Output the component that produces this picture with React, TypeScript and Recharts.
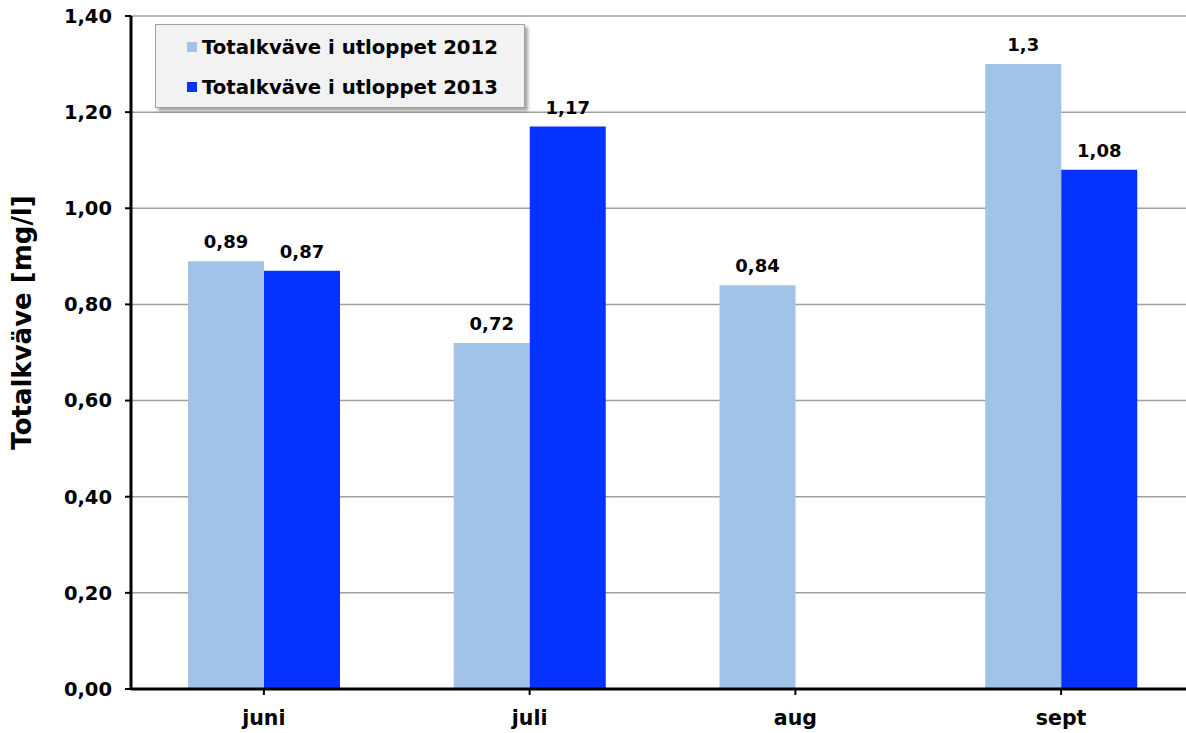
import React from "react";
import { BarChart, Bar, XAxis, YAxis, CartesianGrid, LabelList } from "recharts";

const months = ["juni", "juli", "aug", "sept"];
const values2012 = [0.89, 0.72, 0.84, 1.3];
const values2013: (number | null)[] = [0.87, 1.17, null, 1.08];
const yTicks = [0, 0.2, 0.4, 0.6, 0.8, 1.0, 1.2, 1.4];
const series = [
  { key: "y2012", name: "Totalkväve i utloppet 2012", color: "#A1C3E9" },
  { key: "y2013", name: "Totalkväve i utloppet 2013", color: "#0433FF" },
];
const yTitle = "Totalkväve [mg/l]";

const data = months.map((m, i) => ({ month: m, y2012: values2012[i], y2013: values2013[i] }));

const FONT = "'DejaVu Sans', Verdana, sans-serif";

const fmtLabel = (v: any) => (v === null || v === undefined ? "" : String(v).replace(".", ","));
const fmtTick = (v: number) => v.toFixed(2).replace(".", ",");

const YTitle = (props: any) => {
  const vb = props.viewBox || {};
  const cx = 31;
  const cy = vb.y + vb.height / 2 - 30;
  return (
    <text
      x={cx}
      y={cy}
      transform={`rotate(-90 ${cx} ${cy})`}
      textAnchor="middle"
      fill="#000"
      fontFamily={FONT}
      fontWeight="bold"
      fontSize={26}
    >
      {yTitle}
    </text>
  );
};

const LegendBox = () => (
  <div
    style={{
      position: "absolute",
      left: 155,
      top: 24,
      width: 370,
      height: 84,
      background: "#F2F2F2",
      border: "1px solid #A0A0A0",
      boxShadow: "3px 3px 3px rgba(0,0,0,0.35)",
      boxSizing: "border-box",
      fontFamily: FONT,
      fontWeight: "bold",
      fontSize: 19.7,
      color: "#000",
      paddingTop: 2,
    }}
  >
    {series.map((s) => (
      <div key={s.key} style={{ display: "flex", alignItems: "center", height: 40, paddingLeft: 31, whiteSpace: "nowrap" }}>
        <span style={{ display: "inline-block", width: 10, height: 10, background: s.color, marginRight: 5 }} />
        <span>{s.name}</span>
      </div>
    ))}
  </div>
);

export default function App() {
  return (
    <div style={{ position: "absolute", left: 0, top: 0, width: 1186, height: 733, background: "#fff", overflow: "hidden" }}>
      <BarChart
        width={1194}
        height={733}
        data={data}
        margin={{ top: 16, right: 0, bottom: 0, left: 0 }}
        barGap={0}
        barSize={76}
      >
        <CartesianGrid vertical={false} stroke="#A0A0A0" strokeWidth={1.5} />
        <XAxis
          dataKey="month"
          height={44}
          axisLine={{ stroke: "#000", strokeWidth: 3 }}
          tickLine={{ stroke: "#000", strokeWidth: 2 }}
          tickSize={6}
          tickMargin={15}
          tick={{ fill: "#000", fontFamily: FONT, fontWeight: "bold", fontSize: 20.5 }}
        />
        <YAxis
          width={131}
          domain={[0, 1.4]}
          ticks={yTicks}
          tickFormatter={fmtTick}
          interval={0}
          axisLine={{ stroke: "#000", strokeWidth: 3 }}
          tickLine={{ stroke: "#000", strokeWidth: 2 }}
          tickSize={6}
          tickMargin={13}
          tick={{ fill: "#000", fontFamily: FONT, fontWeight: "bold", fontSize: 19.5 }}
          label={<YTitle />}
        />
        {series.map((s) => (
          <Bar key={s.key} dataKey={s.key} name={s.name} fill={s.color} isAnimationActive={false}>
            <LabelList
              dataKey={s.key}
              position="top"
              offset={13}
              formatter={fmtLabel}
              style={{ fill: "#000", fontFamily: FONT, fontWeight: "bold", fontSize: 18 }}
            />
          </Bar>
        ))}
      </BarChart>
      <LegendBox />
    </div>
  );
}
